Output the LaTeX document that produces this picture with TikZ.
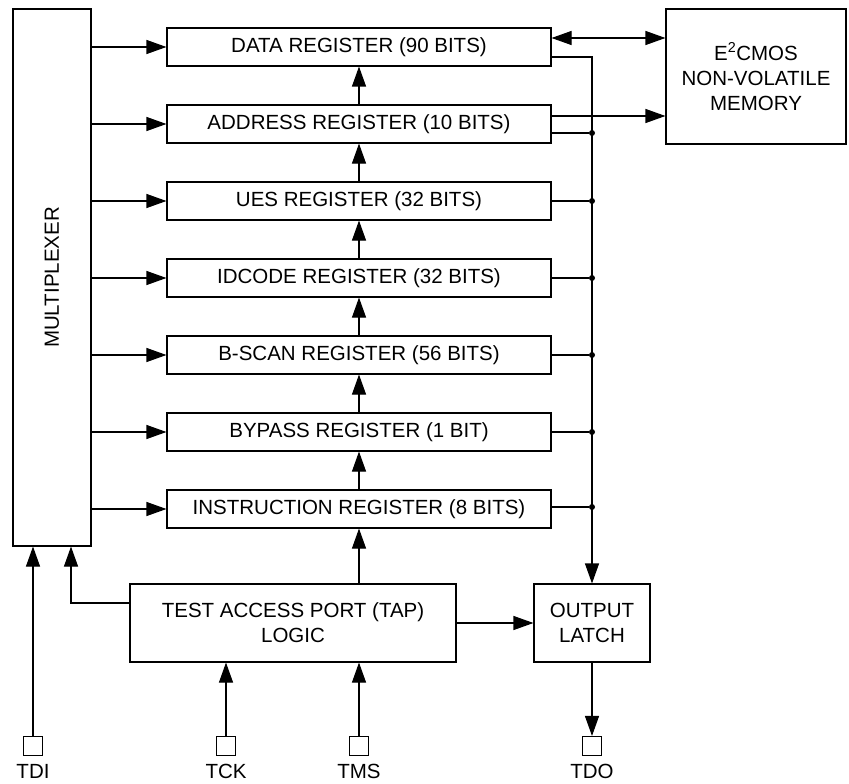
\documentclass[tikz,border=0pt]{standalone}
\usepackage{fontspec}
\setmainfont{Liberation Sans}
\usetikzlibrary{arrows.meta}
\tikzset{every node/.style={font=\fontsize{20.5}{25}\selectfont},
	blk/.style={draw, line width=1.1pt, inner sep=0pt, align=center},
	reg/.style={blk, minimum width=384pt, minimum height=38pt},
	pinsq/.style={draw, line width=1.1pt, minimum size=19pt, inner sep=0pt},
	sig/.style={line width=1.1pt, -{Triangle[length=20pt,width=14pt]}},
	sigboth/.style={line width=1.1pt, {Triangle[length=20pt,width=14pt]}-{Triangle[length=20pt,width=14pt]}},
	dot/.style={circle, fill, inner sep=0pt, minimum size=6pt}}
\newcommand{\regbox}[3]{\node[reg] at (359,#1) (#2) {#3}}
\newcommand{\pinsq}[3]{\node[pinsq, label={[inner sep=0pt, label distance=8pt]below:#3}] at (#1,746) (#2) {}}

\begin{document}
\begin{tikzpicture}[x=1pt, y=-1pt]
			\useasboundingbox (0,0) rectangle (849,784);
			\node[blk, minimum width=78pt, minimum height=537pt] at (52,277.5) (mux) {\rotatebox{90}{MULTIPLEXER}};
			\regbox{47}{dr}{DATA REGISTER (90 BITS)};
			\regbox{124}{ar}{ADDRESS REGISTER (10 BITS)};
			\regbox{201}{ur}{UES REGISTER (32 BITS)};
			\regbox{278}{ir}{IDCODE REGISTER (32 BITS)};
			\regbox{355}{br}{B-SCAN REGISTER (56 BITS)};
			\regbox{432}{yr}{BYPASS REGISTER (1 BIT)};
			\regbox{509}{nr}{INSTRUCTION REGISTER (8 BITS)};
			\node[blk, minimum width=180pt, minimum height=135pt] at (756,76.5) (mem) {E\textsuperscript{2}CMOS\\NON-VOLATILE\\MEMORY};
			\node[blk, minimum width=326pt, minimum height=78pt] at (293,623) (tap) {TEST ACCESS PORT (TAP)\\LOGIC};
			\node[blk, minimum width=116pt, minimum height=78pt] at (592,623) (latch) {OUTPUT\\LATCH};
			\pinsq{33}{tdi}{TDI};
			\pinsq{226}{tck}{TCK};
			\pinsq{359}{tms}{TMS};
			\pinsq{592}{tdo}{TDO};
			% bus to the output latch
			\coordinate (bt) at (592,57);
			\coordinate (di) at (600,38);
			\coordinate (ao) at (600,116);
			\coordinate (tm) at (71,603);
			\node[dot] (ja) at (592,133) {};
			\node[dot] (ju) at (592,201) {};
			\node[dot] (ji) at (592,278) {};
			\node[dot] (jb) at (592,355) {};
			\node[dot] (jy) at (592,432) {};
			\node[dot] (jn) at (592,507) {};
			\draw[sig] (mux.east |- dr) -- (dr.west);
			\draw[sig] (mux.east |- ar) -- (ar.west);
			\draw[sig] (mux.east |- ur) -- (ur.west);
			\draw[sig] (mux.east |- ir) -- (ir.west);
			\draw[sig] (mux.east |- br) -- (br.west);
			\draw[sig] (mux.east |- yr) -- (yr.west);
			\draw[sig] (mux.east |- nr) -- (nr.west);
			\draw[sig] (ar.north) -- (dr.south);
			\draw[sig] (ur.north) -- (ar.south);
			\draw[sig] (ir.north) -- (ur.south);
			\draw[sig] (br.north) -- (ir.south);
			\draw[sig] (yr.north) -- (br.south);
			\draw[sig] (nr.north) -- (yr.south);
			\draw[sig] (tap.north -| nr.south) -- (nr.south);
			\draw[sigboth] (dr.east |- di) -- (mem.west |- di);
			\draw[sig] (ar.east |- ao) -- (mem.west |- ao);
			\draw[sig] (dr.east |- bt) -- (bt) -- (latch.north);
			\draw[line width=1.1pt]
			(ar.east |- ja) -- (ja)
			(ur.east) -- (ju)
			(ir.east) -- (ji)
			(br.east) -- (jb)
			(yr.east) -- (jy)
			(nr.east |- jn) -- (jn);
			\draw[sig] (tap.west |- tm) -- (tm) -- (tm |- mux.south);
			\draw[sig] (tdi.north) -- (tdi |- mux.south);
			\draw[sig] (tck.north) -- (tck |- tap.south);
			\draw[sig] (tms.north) -- (tms |- tap.south);
			\draw[sig] (tap.east |- latch) -- (latch.west);
			\draw[sig] (latch.south) -- (tdo.north);
		\end{tikzpicture}
\end{document}
